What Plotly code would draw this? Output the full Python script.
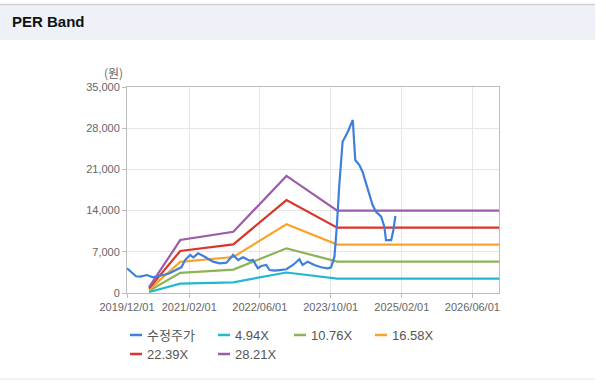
import plotly.graph_objects as go

# ---------------- data ----------------
price_dates = ["2019-12-01", "2020-01-01", "2020-02-01", "2020-03-01", "2020-04-15", "2020-05-29",
               "2020-07-01", "2020-08-06", "2020-09-15", "2020-11-07", "2020-12-10", "2021-01-03",
               "2021-02-07", "2021-03-01", "2021-04-03", "2021-05-18", "2021-07-14", "2021-08-30",
               "2021-10-15", "2021-11-29", "2022-01-03", "2022-02-06", "2022-03-22", "2022-04-15",
               "2022-05-18", "2022-06-11", "2022-07-15", "2022-08-07", "2022-09-11", "2022-10-15",
               "2022-11-30", "2023-01-15", "2023-02-28", "2023-03-22", "2023-04-26", "2023-06-11",
               "2023-07-27", "2023-09-11", "2023-10-04", "2023-10-27", "2023-11-12", "2023-11-30",
               "2023-12-22", "2024-01-27", "2024-03-01", "2024-03-18", "2024-04-15", "2024-05-07",
               "2024-05-31", "2024-06-23", "2024-07-15", "2024-08-08", "2024-09-12", "2024-10-04",
               "2024-10-15", "2024-11-20", "2024-12-05", "2024-12-19"]
price_values = [4200, 3600, 2850, 2800, 3050, 2650,
                2900, 3050, 3300, 3900, 4400, 5600,
                6450, 6060, 6740, 6170, 5320, 5040,
                5150, 6460, 5600, 6060, 5490, 5600,
                4200, 4590, 4760, 3900, 3790, 3900,
                4030, 4760, 5730, 4760, 5320, 4760,
                4370, 4200, 4370, 6170, 11260, 18640,
                25700, 27400, 29400, 22600, 21750, 20600,
                18640, 16360, 14950, 13800, 12960, 11260,
                9000, 9000, 10700, 13100]

band_dates = ["2020-05-01", "2020-12-01", "2021-12-01", "2022-12-01", "2023-11-15", "2026-12-01"]
band_4_94 = [170, 1580, 1820, 3480, 2450, 2450]
band_10_76 = [370, 3430, 3970, 7590, 5340, 5340]
band_16_58 = [580, 5290, 6120, 11690, 8220, 8220]
band_22_39 = [780, 7140, 8260, 15790, 11110, 11110]
band_28_21 = [990, 9000, 10400, 19900, 14000, 14000]

series_names = ["수정주가", "4.94X", "10.76X", "16.58X", "22.39X", "28.21X"]
series_colors = ["#3f7fdc", "#22b8cf", "#8db356", "#f9a32c", "#d9352a", "#9c5bab"]

x_tick_vals = ["2019-12-01", "2021-02-01", "2022-06-01", "2023-10-01", "2025-02-01", "2026-06-01"]
x_tick_text = ["2019/12/01", "2021/02/01", "2022/06/01", "2023/10/01", "2025/02/01", "2026/06/01"]
y_tick_vals = [0, 7000, 14000, 21000, 28000, 35000]
y_tick_text = ["0", "7,000", "14,000", "21,000", "28,000", "35,000"]

# ---------------- figure ----------------
W, H = 606, 391
ML, MR, MT, MB = 127, 107, 87, 98
PW, PH = W - ML - MR, H - MT - MB


def px(x):  # page pixel -> paper x
    return (x - ML) / PW


def py(y):  # page pixel -> paper y
    return (H - MB - y) / PH


fig = go.Figure()
band_values = [band_4_94, band_10_76, band_16_58, band_22_39, band_28_21]
for i, vals in enumerate(band_values):
    fig.add_trace(go.Scatter(x=band_dates, y=vals, mode="lines", name=series_names[i + 1],
                             line=dict(color=series_colors[i + 1], width=2.2), showlegend=False))
fig.add_trace(go.Scatter(x=price_dates, y=price_values, mode="lines", name=series_names[0],
                         line=dict(color=series_colors[0], width=2.2), showlegend=False))

font_family = "Liberation Sans, Arial, sans-serif"
fig.update_layout(
    width=W, height=H,
    margin=dict(l=ML, r=MR, t=MT, b=MB, pad=0),
    paper_bgcolor="white", plot_bgcolor="white",
    font=dict(family=font_family, color="#666666", size=11),
    showlegend=False,
    xaxis=dict(type="date", range=["2019-12-01", "2026-12-01"],
               tickvals=x_tick_vals, ticktext=x_tick_text,
               showgrid=True, gridcolor="#e6e6e6", gridwidth=1,
               showline=True, linecolor="#bdbdbd", linewidth=1, mirror=True,
               ticks="outside", ticklen=4, tickcolor="#bdbdbd",
               tickfont=dict(size=11, color="#666666"), zeroline=False, fixedrange=True),
    yaxis=dict(range=[0, 35000], tickvals=y_tick_vals, ticktext=y_tick_text,
               showgrid=True, gridcolor="#e6e6e6", gridwidth=1,
               showline=True, linecolor="#bdbdbd", linewidth=1, mirror=True,
               ticks="outside", ticklen=4, tickcolor="#bdbdbd",
               tickfont=dict(size=11, color="#666666"), zeroline=False, fixedrange=True),
)

shapes = [
    dict(type="rect", xref="paper", yref="paper", x0=px(0), x1=px(595), y0=py(40), y1=py(4),
         fillcolor="#eef2f8", line=dict(width=0), layer="below"),
    dict(type="line", xref="paper", yref="paper", x0=px(0), x1=px(595), y0=py(4.5), y1=py(4.5),
         line=dict(color="#cfcfcf", width=1.5)),
    dict(type="line", xref="paper", yref="paper", x0=px(0), x1=px(595), y0=py(379), y1=py(379),
         line=dict(color="#e3e3e3", width=1)),
]
annotations = [
    dict(text="<b>PER Band</b>", xref="paper", yref="paper", x=px(10), y=py(22),
         xanchor="left", yanchor="middle", showarrow=False,
         font=dict(size=15, color="#111111", family=font_family)),
    dict(text="(원)", xref="paper", yref="paper", x=px(113), y=py(72),
         xanchor="center", yanchor="middle", showarrow=False,
         font=dict(size=12, color="#666666", family="Noto Sans CJK KR, sans-serif")),
]

# custom legend
legend_pos = [(130, 335), (218, 335), (294, 335), (375, 335), (130, 354), (218, 354)]
for (lx, ly), i in zip(legend_pos, range(len(series_names))):
    shapes.append(dict(type="line", xref="paper", yref="paper", x0=px(lx), x1=px(lx + 12),
                       y0=py(ly), y1=py(ly), line=dict(color=series_colors[i], width=2.5)))
    annotations.append(dict(text=series_names[i], xref="paper", yref="paper", x=px(lx + 15), y=py(ly),
                            xanchor="left", yanchor="middle", showarrow=False,
                            font=dict(size=13, color="#555555",
                                      family="Liberation Sans, Noto Sans CJK KR, sans-serif")))

fig.update_layout(shapes=shapes, annotations=annotations)
fig.write_html("out.html", config={"displayModeBar": False},
               post_script="document.body.style.margin='0';document.body.style.overflow='hidden';")
